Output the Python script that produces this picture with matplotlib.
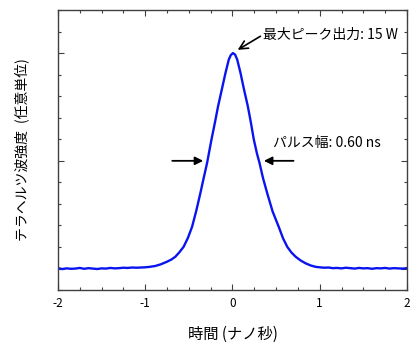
import matplotlib
matplotlib.use("Agg")
import matplotlib.pyplot as plt
from matplotlib.ticker import MultipleLocator, NullFormatter

plt.rcParams["font.family"] = ["Noto Sans CJK JP", "DejaVu Sans"]
plt.rcParams["axes.unicode_minus"] = False

# pulse trace (time in ns, normalised intensity)
time_ns = [-2.00, -1.95, -1.90, -1.85, -1.80, -1.75, -1.70, -1.65, -1.60, -1.55,
           -1.50, -1.45, -1.40, -1.35, -1.30, -1.25, -1.20, -1.15, -1.10, -1.05,
           -1.00, -0.95, -0.885, -0.82, -0.75, -0.70, -0.655, -0.61, -0.56, -0.51,
           -0.463, -0.415, -0.368, -0.33, -0.291, -0.241, -0.20, -0.165, -0.12, -0.08,
           -0.042, -0.02, 0.005, 0.03, 0.054, 0.092, 0.13, 0.176, 0.21, 0.245,
           0.28, 0.31, 0.35, 0.398, 0.46, 0.53, 0.58, 0.628, 0.675, 0.724,
           0.78, 0.84, 0.90, 0.954, 1.00, 1.05, 1.10, 1.15, 1.20, 1.25,
           1.30, 1.35, 1.40, 1.45, 1.50, 1.55, 1.60, 1.65, 1.70, 1.75,
           1.80, 1.85, 1.90, 1.95, 2.00]
intensity = [0.002, -0.002, 0.001, -0.001, 0.000, 0.003, -0.001, 0.002, 0.000, -0.002,
             0.001, 0.000, 0.003, 0.001, 0.002, 0.004, 0.003, 0.005, 0.004, 0.005,
             0.006, 0.008, 0.012, 0.020, 0.032, 0.042, 0.055, 0.075, 0.101, 0.143,
             0.194, 0.268, 0.350, 0.420, 0.490, 0.598, 0.680, 0.753, 0.835, 0.908,
             0.970, 0.990, 1.000, 0.993, 0.970, 0.908, 0.835, 0.753, 0.680, 0.598,
             0.535, 0.490, 0.420, 0.350, 0.265, 0.194, 0.140, 0.101, 0.075, 0.055,
             0.038, 0.024, 0.014, 0.008, 0.006, 0.004, 0.005, 0.002, 0.003, 0.001,
             0.004, 0.002, 0.000, 0.003, 0.001, 0.002, -0.001, 0.002, 0.001, 0.003,
             0.000, 0.002, 0.001, 0.000, 0.002]

peak_label = "最大ピーク出力: 15 W"
width_label = "パルス幅: 0.60 ns"
half_left, half_right = -0.30, 0.30

fig = plt.figure(figsize=(4.2, 3.56), dpi=100)
ax = fig.add_axes([0.138, 0.185, 0.831, 0.787])

ax.plot(time_ns, intensity, color="#0a14f0", lw=1.7)

ax.set_xlim(-2, 2)
ax.set_ylim(-0.1, 1.2)
ax.xaxis.set_major_locator(MultipleLocator(1))
ax.xaxis.set_minor_locator(MultipleLocator(0.25))
ax.yaxis.set_major_locator(MultipleLocator(0.5))
ax.yaxis.set_minor_locator(MultipleLocator(0.1))
ax.yaxis.set_major_formatter(NullFormatter())
ax.tick_params(which="both", direction="in", top=True, right=True,
               color="#404040", labelsize=8.5, pad=5)
ax.tick_params(which="major", length=4, width=0.8)
ax.tick_params(which="minor", length=2.2, width=0.8)
for s in ax.spines.values():
    s.set_color("#404040")
    s.set_linewidth(1.0)

ax.set_xlabel("時間 (ナノ秒)", fontsize=11, labelpad=11)
ax.set_ylabel("テラヘルツ波強度\u2002(任意単位)", fontsize=10, labelpad=16)

# annotations
ax.text(0.345, 1.086, peak_label, fontsize=10, va="center", ha="left")
ax.annotate("", xy=(0.06, 1.015), xytext=(0.32, 1.078),
            arrowprops=dict(arrowstyle="->", color="black", lw=1.2,
                            mutation_scale=15, shrinkA=0, shrinkB=0))
ax.annotate("", xy=(half_left - 0.035, 0.5), xytext=(-0.69, 0.5),
            arrowprops=dict(arrowstyle="-|>", color="black", lw=1.3,
                            mutation_scale=12, shrinkA=0, shrinkB=0))
ax.annotate("", xy=(half_right + 0.06, 0.5), xytext=(0.70, 0.5),
            arrowprops=dict(arrowstyle="-|>", color="black", lw=1.3,
                            mutation_scale=12, shrinkA=0, shrinkB=0))
ax.text(0.47, 0.584, width_label, fontsize=10, va="center", ha="left")

fig.savefig("out.png", dpi=100)
